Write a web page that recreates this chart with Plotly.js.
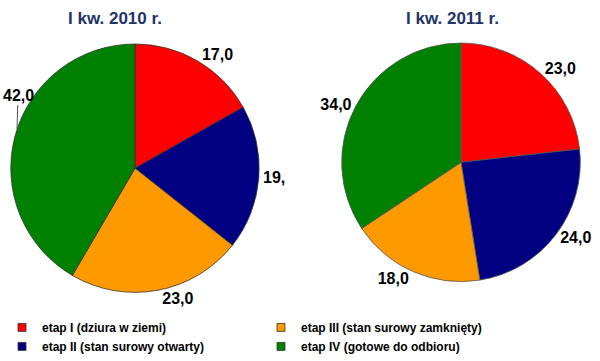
<!DOCTYPE html>
<html><head><meta charset="utf-8">
<script src="https://cdn.plot.ly/plotly-3.0.1.min.js"></script>
<style>html,body{margin:0;padding:0;background:#fff}#c{width:600px;height:361px}</style>
</head><body><div id="c"></div>
<script>
const categories = ["etap I (dziura w ziemi)", "etap II (stan surowy otwarty)", "etap III (stan surowy zamknięty)", "etap IV (gotowe do odbioru)"];
const titles = ["I kw. 2010 r.", "I kw. 2011 r."];
const values2010 = [17, 19, 23, 42];
const values2011 = [23, 24, 18, 34];
const labels2010 = ["17,0", "19,", "23,0", "42,0"];
const labels2011 = ["23,0", "24,0", "18,0", "34,0"];
const colors = ["#FF0000", "#000080", "#FF9900", "#008000"];

const font = "Liberation Sans, Arial, sans-serif";
function pie(vals, txt, dom, pos, lineColor) {
  return {
    type: "pie", values: vals, labels: categories, text: txt,
    texttemplate: "%{text}", textposition: pos,
    textfont: {family: font, size: 16, color: "#000", weight: "bold"},
    sort: false, direction: "clockwise", rotation: 0,
    marker: {colors: colors, line: {color: lineColor, width: 0.8}},
    domain: dom, showlegend: false, hoverinfo: "none", automargin: false
  };
}
const data = [
  pie(values2010, labels2010, {x: [8/600, 262/600], y: [1-299/361, 1-45/361]},
      ["outside", "outside", "outside", "none"], "#333"),
  pie(values2011, labels2011, {x: [339/600, 583/600], y: [1-288/361, 1-44/361]},
      "outside", "#555")
];
[0, 2, 1, 3].forEach(i => data.push({
  type: "scatter", x: [null], y: [null], mode: "markers", name: categories[i],
  marker: {symbol: "square", size: 8, color: colors[i], line: {color: "#333", width: 0.8}},
  hoverinfo: "none"
}));
const layout = {
  width: 600, height: 361, margin: {l: 0, r: 0, t: 0, b: 0},
  paper_bgcolor: "#fff", plot_bgcolor: "rgba(0,0,0,0)",
  xaxis: {visible: false}, yaxis: {visible: false},
  showlegend: true,
  legend: {orientation: "h", x: 2/600, xanchor: "left", y: 1-320/361, yanchor: "top",
    entrywidth: 214, entrywidthmode: "pixels", traceorder: "normal",
    font: {family: font, size: 12, color: "#000", weight: "bold"}, bgcolor: "rgba(0,0,0,0)"},
  annotations: [
    {text: titles[0], x: 115/600, y: 1-19/361, xref: "paper", yref: "paper", showarrow: false,
     yanchor: "middle", xanchor: "center",
     font: {family: font, size: 17, color: "#1F3468", weight: "bold"}},
    {text: titles[1], x: 452/600, y: 1-19/361, xref: "paper", yref: "paper", showarrow: false,
     yanchor: "middle", xanchor: "center",
     font: {family: font, size: 17, color: "#1F3468", weight: "bold"}},
    {text: labels2010[3], x: 17/600, y: 1-132/361, xref: "paper", yref: "paper",
     showarrow: true, arrowhead: 0, arrowwidth: 1, arrowcolor: "#555", ax: 1, ay: -34,
     font: {family: font, size: 16, color: "#000", weight: "bold"}}
  ]
};
Plotly.newPlot("c", data, layout, {displayModeBar: false, staticPlot: true});
</script></body></html>
